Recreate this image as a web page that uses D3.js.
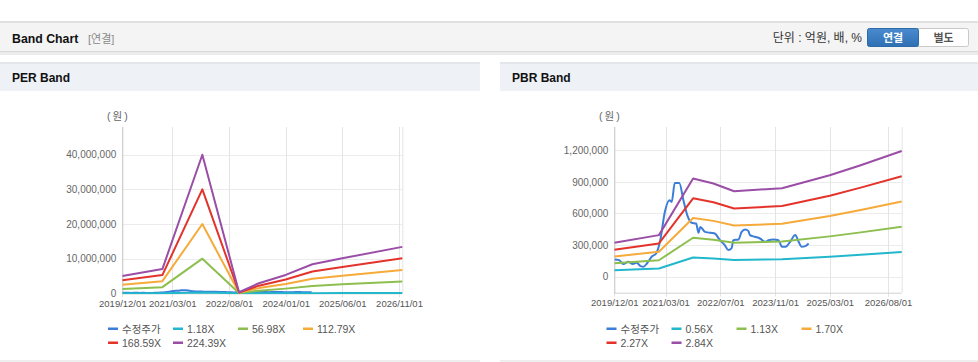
<!DOCTYPE html>
<html>
<head>
<meta charset="utf-8">
<script src="https://cdn.jsdelivr.net/npm/d3@7"></script>
<style>
  html, body { margin: 0; padding: 0; background: #fff; }
  svg { display: block; }
</style>
</head>
<body>
<script>
// ---- data ----
var priceDates = ["2019/12/04","2020/01/13","2020/02/19","2020/04/04","2020/05/13","2020/06/16","2020/07/22","2020/08/16","2020/09/16","2020/10/28",
  "2020/12/07","2021/01/13","2021/02/23","2021/04/04","2021/04/25","2021/05/22","2021/07/01","2021/08/07","2021/09/10","2021/10/19",
  "2021/11/28","2021/12/19","2022/01/04","2022/02/15","2022/05/13","2022/06/28","2022/08/10","2022/09/10","2022/10/10","2022/10/25",
  "2022/12/10","2023/01/07","2023/02/07","2023/03/07","2023/03/22","2023/05/04","2023/06/19","2023/08/04","2023/09/04","2023/10/16",
  "2023/12/01","2024/01/01","2024/02/01","2024/03/13","2024/04/28","2024/05/28","2024/06/25","2024/07/25","2024/08/25"];
var priceValues = [164000,158000,120000,142000,120000,133000,101000,95000,126000,190000,
  221000,347000,616000,726000,710000,890000,890000,726000,584000,512000,
  505000,417000,473000,426000,410000,347000,300000,253000,272000,347000,
  354000,426000,449000,435000,395000,379000,363000,331000,347000,354000,
  347000,284000,284000,331000,395000,331000,284000,290000,316000];

var perBandDates = ["2019/12/01","2020/12/01","2021/12/01","2022/11/01","2023/05/01","2024/01/01","2024/09/01","2025/06/01","2026/12/01"];
var perBand118   = [26000, 37000, 210000, 2000, 15000, 28000, 44000, 53000, 71000];
var perBand5698  = [1270000, 1780000, 10000000, 80000, 740000, 1350000, 2100000, 2600000, 3400000];
var perBand11279 = [2500000, 3500000, 20000000, 150000, 1500000, 2700000, 4200000, 5100000, 6700000];
var perBand16859 = [3760000, 5260000, 30000000, 230000, 2200000, 4000000, 6300000, 7600000, 10100000];
var perBand22439 = [5000000, 7000000, 40000000, 300000, 2900000, 5300000, 8400000, 10100000, 13400000];

var pbrBandDates = ["2019/12/01","2021/01/01","2021/11/01","2022/05/01","2022/11/01","2024/01/01","2025/03/01","2025/12/01","2026/12/01"];
var pbrBand056 = [63000, 78000, 183000, 174000, 160000, 165000, 190000, 208000, 235000];
var pbrBand113 = [128000, 157000, 370000, 352000, 323000, 334000, 383000, 421000, 474000];
var pbrBand170 = [193000, 237000, 558000, 530000, 486000, 503000, 576000, 634000, 714000];
var pbrBand227 = [257000, 316000, 744000, 706000, 648000, 671000, 769000, 845000, 953000];
var pbrBand284 = [322000, 395000, 931000, 884000, 811000, 840000, 962000, 1058000, 1192000];

var perLabels = ["수정주가", "1.18X", "56.98X", "112.79X", "168.59X", "224.39X"];
var pbrLabels = ["수정주가", "0.56X", "1.13X", "1.70X", "2.27X", "2.84X"];
var seriesColors = ["#3b7dd8", "#22b7cc", "#8dbf4e", "#f6aa3a", "#e3332b", "#9a4ea6"];

var perXTicks = ["2019/12/01","2021/03/01","2022/08/01","2024/01/01","2025/06/01","2026/11/01"];
var pbrXTicks = ["2019/12/01","2021/03/01","2022/07/01","2023/11/01","2025/03/01","2026/08/01"];
var perYTicks = [0, 10000000, 20000000, 30000000, 40000000];
var pbrYTicks = [0, 300000, 600000, 900000, 1200000];

// ---- page ----
var W = 978, H = 362;
var LAT = "'Liberation Sans', Arial, 'Noto Sans CJK KR', sans-serif";
var parseDate = d3.timeParse("%Y/%m/%d");

var svg = d3.select("body").append("svg")
  .attr("width", W).attr("height", H)
  .attr("viewBox", "0 0 " + W + " " + H);

// top header bar
svg.append("rect").attr("x", 0).attr("y", 52).attr("width", W).attr("height", 3).attr("fill", "#ececec");
svg.append("rect").attr("x", 0).attr("y", 21).attr("width", W).attr("height", 31).attr("fill", "#f4f4f4");
svg.append("rect").attr("x", 0).attr("y", 21).attr("width", W).attr("height", 2).attr("fill", "#e0e0e0");
svg.append("rect").attr("x", 0).attr("y", 51).attr("width", W).attr("height", 1).attr("fill", "#d8d8d8");

svg.append("text").attr("x", 12).attr("y", 42.5)
  .attr("font-family", LAT).attr("font-size", "12.3px").attr("font-weight", "bold").attr("fill", "#111")
  .text("Band Chart");
svg.append("text").attr("x", 88).attr("y", 42.5)
  .attr("font-family", LAT).attr("font-size", "11px").attr("fill", "#8a8a8a")
  .text("[연결]");

svg.append("text").attr("x", 862).attr("y", 42).attr("text-anchor", "end")
  .attr("font-family", LAT).attr("font-size", "12px").attr("fill", "#333")
  .text("단위 : 억원, 배, %");

var btnGrad = svg.append("defs").append("linearGradient").attr("id", "btnBlue")
  .attr("x1", 0).attr("y1", 0).attr("x2", 0).attr("y2", 1);
btnGrad.append("stop").attr("offset", "0%").attr("stop-color", "#4a8bd0");
btnGrad.append("stop").attr("offset", "100%").attr("stop-color", "#2f6fb3");

svg.append("rect").attr("x", 867.5).attr("y", 28.5).attr("width", 101).attr("height", 18)
  .attr("rx", 2).attr("fill", "#fff").attr("stroke", "#c9c9c9");
svg.append("rect").attr("x", 867.5).attr("y", 28.5).attr("width", 51).attr("height", 18)
  .attr("rx", 2).attr("fill", "url(#btnBlue)").attr("stroke", "#2e6aa8");
svg.append("text").attr("x", 893).attr("y", 41.5).attr("text-anchor", "middle")
  .attr("font-family", LAT).attr("font-size", "11px").attr("font-weight", "bold").attr("fill", "#fff")
  .text("연결");
svg.append("text").attr("x", 943.5).attr("y", 41.5).attr("text-anchor", "middle")
  .attr("font-family", LAT).attr("font-size", "11px").attr("font-weight", "bold").attr("fill", "#555")
  .text("별도");

// panel headers and bottom borders
[[0, 480, "PER Band"], [500, 478, "PBR Band"]].forEach(function(p){
  svg.append("rect").attr("x", p[0]).attr("y", 62).attr("width", p[1]).attr("height", 29).attr("fill", "#eef1f6");
  svg.append("rect").attr("x", p[0]).attr("y", 62).attr("width", p[1]).attr("height", 2).attr("fill", "#e3e6eb");
  svg.append("text").attr("x", p[0] + 12).attr("y", 82)
    .attr("font-family", LAT).attr("font-size", "12px").attr("font-weight", "bold").attr("fill", "#111")
    .text(p[2]);
  svg.append("rect").attr("x", p[0]).attr("y", 360).attr("width", p[1]).attr("height", 2).attr("fill", "#eeeeee");
});

function makeSeries(dates, values){
  return dates.map(function(d, i){ return {date: parseDate(d), value: values[i]}; });
}

function drawChart(cfg){
  var x = d3.scaleTime()
    .domain([parseDate("2019/12/01"), parseDate("2026/12/01")])
    .range([cfg.left, cfg.right]);
  var y = d3.scaleLinear().domain(cfg.yDomain).range([cfg.bottom, cfg.top]);

  var g = svg.append("g");

  // grid
  g.append("g").selectAll("line").data(cfg.yTicks).join("line")
    .attr("x1", cfg.left).attr("x2", cfg.right)
    .attr("y1", function(d){ return Math.round(y(d)) + 0.5; })
    .attr("y2", function(d){ return Math.round(y(d)) + 0.5; })
    .attr("stroke", "#ececec");
  g.append("g").selectAll("line").data(cfg.xTicks).join("line")
    .attr("x1", function(d){ return Math.round(x(parseDate(d))) + 0.5; })
    .attr("x2", function(d){ return Math.round(x(parseDate(d))) + 0.5; })
    .attr("y1", cfg.top).attr("y2", cfg.bottom + 4)
    .attr("stroke", "#e4e4e4");
  g.append("line").attr("x1", cfg.right + 0.5).attr("x2", cfg.right + 0.5)
    .attr("y1", cfg.top).attr("y2", cfg.bottom).attr("stroke", "#e4e4e4");

  // axes
  var yAxis = d3.axisLeft(y).tickValues(cfg.yTicks).tickFormat(d3.format(",")).tickSize(0).tickPadding(6);
  var ya = g.append("g").attr("transform", "translate(" + cfg.left + ",0)").call(yAxis);
  ya.select(".domain").remove();
  ya.selectAll("text").attr("font-family", LAT).attr("font-size", "10px").attr("fill", "#666");

  var xAxis = d3.axisBottom(x).tickValues(cfg.xTicks.map(parseDate))
    .tickFormat(d3.timeFormat("%Y/%m/%d")).tickSize(0).tickPadding(7);
  var xa = g.append("g").attr("transform", "translate(0," + cfg.bottom + ")").call(xAxis);
  xa.select(".domain").remove();
  xa.selectAll("text").attr("font-family", LAT).attr("font-size", "9.5px").attr("fill", "#555");

  g.append("line").attr("x1", cfg.left + 0.5).attr("x2", cfg.left + 0.5)
    .attr("y1", cfg.top).attr("y2", cfg.bottom + 1).attr("stroke", "#c8c8c8");
  g.append("line").attr("x1", cfg.left).attr("x2", cfg.right)
    .attr("y1", cfg.bottom + 0.5).attr("y2", cfg.bottom + 0.5).attr("stroke", "#d0d0d0");

  g.append("text").attr("x", cfg.left - 4).attr("y", cfg.top - 7).attr("text-anchor", "middle")
    .attr("font-family", LAT).attr("font-size", "10.5px").attr("fill", "#666")
    .attr("letter-spacing", "2px")
    .text("(원)");

  // lines
  svg.append("clipPath").attr("id", cfg.id + "clip").append("rect")
    .attr("x", cfg.left).attr("y", cfg.top).attr("width", cfg.right - cfg.left + 1).attr("height", cfg.bottom - cfg.top + 1);
  var line = d3.line().x(function(d){ return x(d.date); }).y(function(d){ return y(d.value); });
  var priceLine = d3.line().curve(d3.curveMonotoneX).x(function(d){ return x(d.date); }).y(function(d){ return y(d.value); });
  g.append("g").attr("clip-path", "url(#" + cfg.id + "clip)")
    .selectAll("path").data(cfg.series).join("path")
    .attr("d", function(d, i){ return i === 0 ? priceLine(d) : line(d); })
    .attr("fill", "none")
    .attr("stroke", function(d, i){ return seriesColors[i]; })
    .attr("stroke-width", 2)
    .attr("stroke-linejoin", "round");

  // legend
  var lg = g.append("g").selectAll("g").data(cfg.labels).join("g")
    .attr("transform", function(d, i){
      return "translate(" + (cfg.legendX + (i % 4) * 65) + "," + (329 + Math.floor(i / 4) * 14) + ")";
    });
  lg.append("rect").attr("x", 0).attr("y", -1.5).attr("width", 10).attr("height", 2.5)
    .attr("fill", function(d, i){ return seriesColors[i]; });
  lg.append("text").attr("x", 14).attr("y", 4)
    .attr("font-family", LAT).attr("font-size", "10.5px").attr("fill", "#555")
    .text(function(d){ return d; });
}

drawChart({
  id: "per", left: 122.3, right: 402.3, top: 127, bottom: 293.3,
  yDomain: [0, 48000000], yTicks: perYTicks, xTicks: perXTicks,
  labels: perLabels, legendX: 108,
  series: [makeSeries(priceDates, priceValues), makeSeries(perBandDates, perBand118), makeSeries(perBandDates, perBand5698),
    makeSeries(perBandDates, perBand11279), makeSeries(perBandDates, perBand16859), makeSeries(perBandDates, perBand22439)]
});

drawChart({
  id: "pbr", left: 614.3, right: 901.7, top: 127, bottom: 292.7,
  yDomain: [-151000, 1420000], yTicks: pbrYTicks, xTicks: pbrXTicks,
  labels: pbrLabels, legendX: 606.5,
  series: [makeSeries(priceDates, priceValues), makeSeries(pbrBandDates, pbrBand056), makeSeries(pbrBandDates, pbrBand113),
    makeSeries(pbrBandDates, pbrBand170), makeSeries(pbrBandDates, pbrBand227), makeSeries(pbrBandDates, pbrBand284)]
});
</script>
</body>
</html>
